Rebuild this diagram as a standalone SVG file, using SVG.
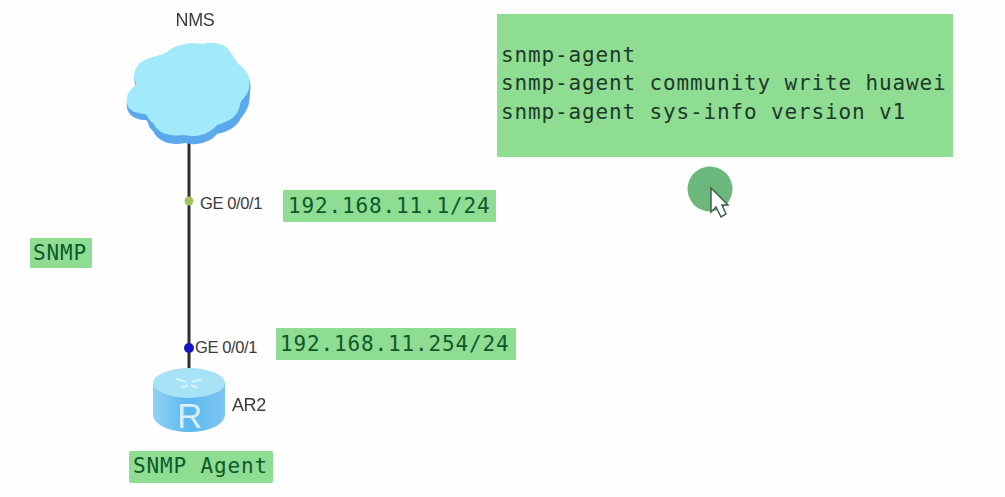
<svg xmlns="http://www.w3.org/2000/svg" width="1005" height="497" viewBox="0 0 1005 497">
<defs>
<linearGradient id="cyl" x1="0" x2="1" y1="0" y2="0"><stop offset="0" stop-color="#8fd2f5"/><stop offset="0.5" stop-color="#5db8ee"/><stop offset="1" stop-color="#7cc6f2"/></linearGradient>
<filter id="soft" x="-10%" y="-10%" width="120%" height="120%"><feGaussianBlur stdDeviation="0.6"/></filter>
</defs>
<style>
.box{fill:#8fdc93}
.mono{font-family:"DejaVu Sans Mono","Liberation Mono",monospace;font-size:21px;letter-spacing:.86px;fill:#0d5a2a}
.cfg{font-family:"DejaVu Sans Mono","Liberation Mono",monospace;font-size:21px;letter-spacing:.86px;fill:#1d3a2a}
.lab{font-family:"Liberation Sans",Arial,sans-serif;font-size:16.5px;fill:#3a3a3a;letter-spacing:-.4px}
</style>
<rect width="1005" height="497" fill="#fefefe"/>
<g id="connectors"><path d="M189 140V368" stroke="#2e2e2e" stroke-width="3" fill="none"/></g>
<g id="nms" filter="url(#soft)">
<path d="M127 101C127 95 133 90 136 87C132 78 135 66 145 62C152 58 160 57 167 55C176 46 190 44 203 45C212 42 225 45 229 52C233 58 236 62 238 66C248 71 252 82 250 92C250 103 248 110 241 118C238 126 228 132 217 134C210 143 195 146 185 143C172 146 158 142 153 131C147 126 149 122 146 120C132 120 125 112 127 101Z" fill="#5aa9ec"/>
<path d="M127 98C127 92 133 88 136 84C132 74 135 64 145 60C152 56 160 56 167 52C176 44 190 42 203 44C212 41 225 44 229 50C233 56 236 60 238 64C247 69 251 78 249 88C248 96 240 100 240 105C238 117 228 122 217 125C209 135 194 138 184 135C172 137 158 134 153 123C147 119 149 116 145 114C132 113 125 108 127 98Z" fill="#a2eafb"/>
<text x="195" y="26" text-anchor="middle" class="lab" style="font-size:18px">NMS</text>
</g>
<g id="port-top"><circle cx="189" cy="201" r="4.5" fill="#a3c45a"/><text x="200" y="209" class="lab">GE 0/0/1</text></g>
<g id="port-bottom"><circle cx="189" cy="348" r="5" fill="#1515c8"/><text x="195" y="353" class="lab">GE 0/0/1</text></g>
<g id="ar2" filter="url(#soft)">
<path d="M153 382V414C153 425 170 432 189 432C208 432 225 425 225 414V382Z" fill="url(#cyl)"/>
<ellipse cx="189" cy="383" rx="36" ry="15" fill="#a8e2f6"/>
<path d="M176 379l10 3M202 379l-10 3M181 388l7-3M198 388l-7-3" stroke="#d5f3fb" stroke-width="2" fill="none"/>
<text x="190" y="428" text-anchor="middle" style="font-family:'Liberation Sans',Arial,sans-serif;font-size:35px;fill:#d6f0fb">R</text>
<text x="232" y="411" class="lab" style="font-size:18px">AR2</text>
</g>
<g id="label-ip1"><rect class="box" x="283" y="190" width="213" height="32" rx="1"/><text class="mono" x="288" y="213">192.168.11.1/24</text></g>
<g id="label-ip2"><rect class="box" x="276" y="328" width="240" height="32" rx="1"/><text class="mono" x="280" y="351">192.168.11.254/24</text></g>
<g id="label-snmp"><rect class="box" x="30" y="238" width="62" height="30" rx="1"/><text class="mono" x="33" y="260">SNMP</text></g>
<g id="label-agent"><rect class="box" x="129" y="451" width="144" height="32" rx="2"/><text class="mono" x="133" y="473">SNMP Agent</text></g>
<g id="config"><rect class="box" x="497" y="14" width="456" height="143"/>
<text class="cfg" x="501" y="62">snmp-agent</text>
<text class="cfg" x="501" y="90">snmp-agent community write huawei</text>
<text class="cfg" x="501" y="119">snmp-agent sys-info version v1</text></g>
<g id="cursor"><circle cx="710" cy="189" r="22.5" fill="#6cb77c"/>
<path d="M711 188V212L716 207L721 217L726 214L722 205H728Z" fill="#fff" stroke="#3f5f4a" stroke-width="1.5"/></g>
</svg>
